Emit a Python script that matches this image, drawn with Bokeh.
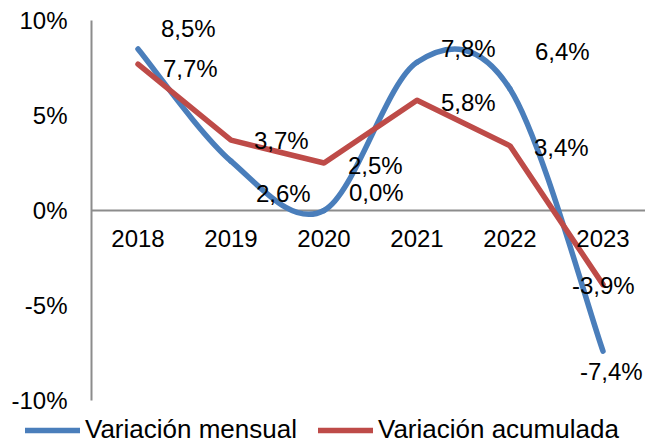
from bokeh.plotting import figure
from bokeh.models import Range1d, Legend, LegendItem, ColumnDataSource
from bokeh.core.properties import value
from bokeh.embed import file_html
from bokeh.resources import INLINE

# ---- data ----
years = ["2018", "2019", "2020", "2021", "2022", "2023"]
mensual = [8.5, 2.6, 0.0, 7.8, 6.4, -7.4]
acumulada = [7.7, 3.7, 2.5, 5.8, 3.4, -3.9]
y_ticks = [-10, -5, 0, 5, 10]

# ---- styles ----
BLUE = "#4A7EBB"
RED = "#BE4B48"
GRAY = "#8C8C8C"
FONT = "Liberation Sans"
FS = "24px"
LW = 5.5

# label pixel offsets (screen space)
blue_dx = [23, 25, 25, 24, 25, -23]
blue_dy = [-21, 32, -18, -14, -37, 20]
red_dx = [25, 23, 24, 24, 24, -31]
red_dy = [4, 0, 2, 2, 2, 1]

xs = list(range(len(years)))
n = len(xs)

# plotting frame covers the whole canvas; axes are drawn by hand inside it
X0, X1 = -1.4785, 5.457
Y0, Y1 = -12.316, 11.053
p = figure(width=645, height=444, output_backend="svg", toolbar_location=None,
           x_range=Range1d(X0, X1), y_range=Range1d(Y0, Y1),
           x_axis_location=None, y_axis_location=None,
           min_border_left=0, min_border_right=0, min_border_top=0, min_border_bottom=0)
p.grid.visible = False
p.outline_line_color = None

cat_left = xs[0] - 0.5
# axis lines
p.segment(x0=[cat_left], y0=[min(y_ticks)], x1=[cat_left], y1=[max(y_ticks)],
          line_color=GRAY, line_width=2)
p.segment(x0=[cat_left], y0=[0], x1=[X1], y1=[0], line_color=GRAY, line_width=2)

# y tick labels
p.text(x=[cat_left] * len(y_ticks), y=y_ticks, text=[f"{t}%" for t in y_ticks], x_offset=-24,
       text_font=value(FONT), text_font_size=FS, text_color="black",
       text_align="right", text_baseline="middle")

# smoothed (Catmull-Rom -> Bezier) control points for the monthly series
seg = dict(x0=[], y0=[], x1=[], y1=[], cx0=[], cy0=[], cx1=[], cy1=[])
for i in range(n - 1):
    im = max(i - 1, 0)
    ip = min(i + 2, n - 1)
    seg["x0"].append(xs[i]); seg["y0"].append(mensual[i])
    seg["x1"].append(xs[i + 1]); seg["y1"].append(mensual[i + 1])
    seg["cx0"].append(xs[i] + (xs[i + 1] - xs[im]) / 6)
    seg["cy0"].append(mensual[i] + (mensual[i + 1] - mensual[im]) / 6)
    seg["cx1"].append(xs[i + 1] - (xs[ip] - xs[i]) / 6)
    seg["cy1"].append(mensual[i + 1] - (mensual[ip] - mensual[i]) / 6)

p.bezier(source=ColumnDataSource(seg), x0="x0", y0="y0", x1="x1", y1="y1",
         cx0="cx0", cy0="cy0", cx1="cx1", cy1="cy1",
         line_color=BLUE, line_width=LW, line_cap="round")
red_r = p.line(xs, acumulada, line_color=RED, line_width=LW, line_cap="round", line_join="round")
# legend swatch for the smoothed series (single point: draws nothing itself)
blue_proxy = p.line(x=[xs[0]], y=[mensual[0]], line_color=BLUE, line_width=LW, line_cap="round")

def fmt(v):
    return (f"{v:.1f}%").replace(".", ",")

p.text(x=xs, y=mensual, text=[fmt(v) for v in mensual], x_offset=blue_dx, y_offset=blue_dy,
       text_font=value(FONT), text_font_size=FS, text_color="black",
       text_align="left", text_baseline="middle")
p.text(x=xs, y=acumulada, text=[fmt(v) for v in acumulada], x_offset=red_dx, y_offset=red_dy,
       text_font=value(FONT), text_font_size=FS, text_color="black",
       text_align="left", text_baseline="middle")

# category labels along the zero line
p.text(x=xs, y=[0] * n, text=years, y_offset=28,
       text_font=value(FONT), text_font_size=FS, text_color="black",
       text_align="center", text_baseline="middle")

legend = Legend(items=[LegendItem(label="Variación mensual", renderers=[blue_proxy]),
                       LegendItem(label="Variación acumulada", renderers=[red_r])],
                orientation="horizontal", location=(25, -1),
                label_text_font=FONT, label_text_font_size="26px", label_text_color="black",
                glyph_width=55, glyph_height=26, label_height=26, label_standoff=5,
                spacing=21, padding=0, margin=0,
                border_line_color=None, background_fill_alpha=0)
p.add_layout(legend)

open("out.html", "w").write(file_html(p, INLINE))
